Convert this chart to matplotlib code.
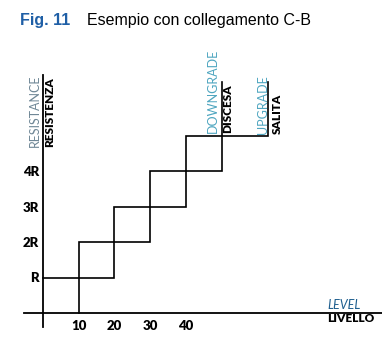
import matplotlib
matplotlib.use("Agg")
import matplotlib.pyplot as plt

# Data
upgrade_x = [0, 20, 20, 40, 40, 63, 63]
upgrade_y = [1, 1, 3, 3, 5, 5, 6.5]
downgrade_x = [10, 10, 30, 30, 50, 50]
downgrade_y = [0, 2, 2, 4, 4, 6.5]
x_ticks = [10, 20, 30, 40]
x_labels = ["10", "20", "30", "40"]
y_ticks = [1, 2, 3, 4]
y_labels = ["R", "2R", "3R", "4R"]

W, H = 382, 351
fig = plt.figure(figsize=(W / 100, H / 100), dpi=100)
ax = fig.add_axes([0, 0, 1, 1])
# pixel mapping: x_px = 43 + 3.57*x ; y_px(from top) = 313 - 35.5*y
sx, sy = 3.57, 35.5
ax.set_xlim(-43 / sx, (W - 43) / sx)
ax.set_ylim(-(H - 313) / sy, 313 / sy)

for s in ["top", "right"]:
    ax.spines[s].set_visible(False)
ax.spines["left"].set_position(("data", 0))
ax.spines["bottom"].set_position(("data", 0))
ax.spines["left"].set_bounds(-0.39, 6.7)
ax.spines["bottom"].set_bounds(-5.3, 96)
ax.spines["left"].set_linewidth(1.3)
ax.spines["bottom"].set_linewidth(1.3)

bold = dict(family="Lato", weight="heavy")
ax.set_xticks(x_ticks)
ax.set_xticklabels(x_labels, fontsize=9.5, **bold)
ax.set_yticks(y_ticks)
ax.set_yticklabels(y_labels, fontsize=9.5, **bold)
ax.tick_params(axis="x", length=0, pad=5)
ax.tick_params(axis="y", length=0, pad=3)

ax.plot(upgrade_x, upgrade_y, color="black", lw=1.2, solid_joinstyle="miter")
ax.plot(downgrade_x, downgrade_y, color="black", lw=1.2, solid_joinstyle="miter")

light_col = "#6f8796"
teal = "#4fa6c0"
thin = dict(family="Lato", weight="normal")
def px2x(px):
    return (px - 43) / sx
def py2y(py):
    return (313 - py) / sy

ax.text(px2x(35), py2y(147), "RESISTANCE", rotation=90, ha="center", va="bottom",
        fontsize=9, color=light_col, **thin)
ax.text(px2x(50), py2y(147), "RESISTENZA", rotation=90, ha="center", va="bottom",
        fontsize=8.5, color="black", **bold)
ax.text(px2x(213), py2y(133), "DOWNGRADE", rotation=90, ha="center", va="bottom",
        fontsize=9, color=teal, **thin)
ax.text(px2x(228), py2y(133), "DISCESA", rotation=90, ha="center", va="bottom",
        fontsize=8.5, color="black", **bold)
ax.text(px2x(263), py2y(134), "UPGRADE", rotation=90, ha="center", va="bottom",
        fontsize=9, color=teal, **thin)
ax.text(px2x(277), py2y(134), "SALITA", rotation=90, ha="center", va="bottom",
        fontsize=8.5, color="black", **bold)

ax.text(px2x(327), py2y(305), "LEVEL", ha="left", va="center", fontsize=9,
        style="italic", color="#1f5f8f", **thin)
ax.text(px2x(327), py2y(319), "LIVELLO", ha="left", va="center", fontsize=8.5,
        color="black", **bold)

fig.text(20 / W, 1 - 21 / H, "Fig. 11", ha="left", va="center", fontsize=11.5,
         family="Liberation Sans", weight="bold", color="#1f5fa6")
fig.text(87 / W, 1 - 21 / H, "Esempio con collegamento C-B", ha="left", va="center",
         fontsize=11.5, family="Liberation Sans", color="black")

fig.savefig("out.png", dpi=100)
